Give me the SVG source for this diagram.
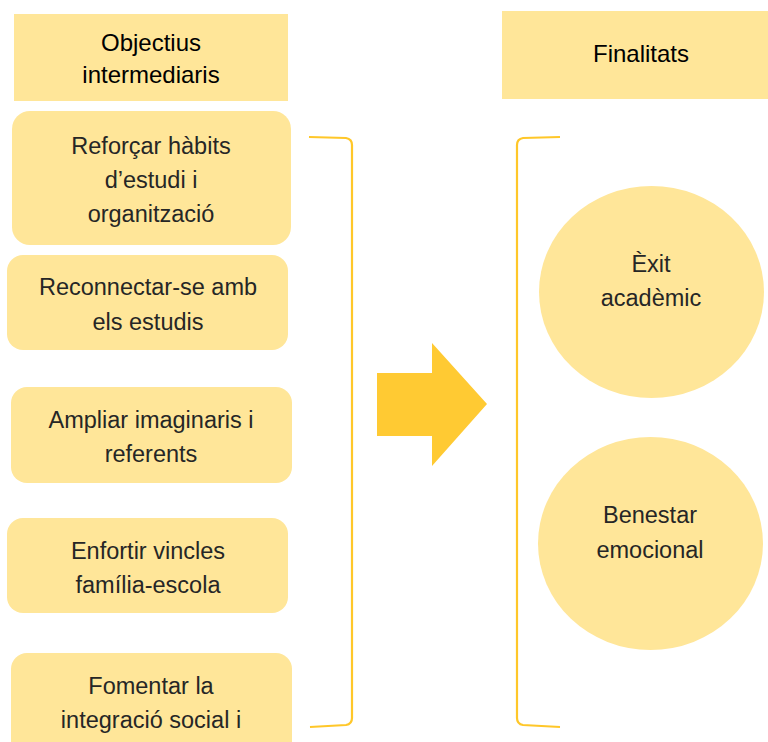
<svg xmlns="http://www.w3.org/2000/svg" width="768" height="742" viewBox="0 0 768 742">
<style>
.hdr{fill:#FFE699}
.box{fill:#FFE699}
.t{font-family:"Liberation Sans","Noto Sans",Arial,sans-serif;font-size:23.5px;fill:#262626;text-anchor:middle}
.h{font-family:"Liberation Sans","Noto Sans",Arial,sans-serif;font-size:24px;fill:#000;text-anchor:middle}
.br{fill:none;stroke:#FFC729;stroke-width:2.2}
</style>
<rect width="768" height="742" fill="#fff"/>
<g id="header-left">
<rect class="hdr" x="14" y="14" width="274" height="87"/>
<text class="h" x="151" y="51">Objectius</text>
<text class="h" x="151" y="83">intermediaris</text>
</g>
<g id="header-right">
<rect class="hdr" x="502" y="11" width="266" height="88"/>
<text class="h" x="641" y="62">Finalitats</text>
</g>
<g id="box1">
<rect class="box" x="12" y="111" width="279" height="134" rx="18"/>
<text class="t" x="151" y="154">Reforçar hàbits</text>
<text class="t" x="151" y="188">d’estudi i</text>
<text class="t" x="151" y="222">organització</text>
</g>
<g id="box2">
<rect class="box" x="7" y="255" width="281" height="95" rx="16"/>
<text class="t" x="148" y="295">Reconnectar-se amb</text>
<text class="t" x="148" y="330">els estudis</text>
</g>
<g id="box3">
<rect class="box" x="11" y="387" width="281" height="96" rx="16"/>
<text class="t" x="151" y="428">Ampliar imaginaris i</text>
<text class="t" x="151" y="462">referents</text>
</g>
<g id="box4">
<rect class="box" x="7" y="518" width="281" height="95" rx="16"/>
<text class="t" x="148" y="559">Enfortir vincles</text>
<text class="t" x="148" y="593">família-escola</text>
</g>
<g id="box5">
<rect class="box" x="11" y="653" width="281" height="110" rx="16"/>
<text class="t" x="151" y="694">Fomentar la</text>
<text class="t" x="151" y="728">integració social i</text>
</g>
<g id="circle1">
<ellipse class="box" cx="651.5" cy="292" rx="112.5" ry="106"/>
<text class="t" x="651" y="272">Èxit</text>
<text class="t" x="651" y="306">acadèmic</text>
</g>
<g id="circle2">
<ellipse class="box" cx="650.5" cy="543.5" rx="112.5" ry="106.5"/>
<text class="t" x="650" y="523">Benestar</text>
<text class="t" x="650" y="558">emocional</text>
</g>
<g id="connectors">
<path class="br" d="M309 137 L346 138 Q352 139 352 145 L352 718 Q352 724 346 725 L310 727"/>
<path class="br" d="M560 137 L523 138 Q517 139 517 145 L517 718 Q517 724 523 725 L560 727"/>
<polygon fill="#FFCA33" points="377,373 432,373 432,343 487,404 432,466 432,436 377,436"/>
</g>
</svg>
